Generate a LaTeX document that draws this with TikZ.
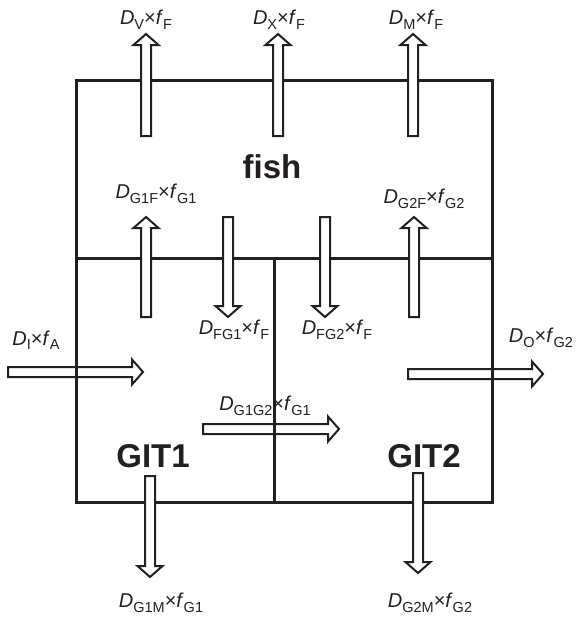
\documentclass[tikz,border=0pt]{standalone}
\usepackage{fontspec}
\setmainfont{Liberation Sans}
\usepackage{xcolor}
\usetikzlibrary{calc}

\definecolor{ink}{HTML}{231F20}
\newcommand{\subfont}{\fontsize{14.5}{15}\selectfont}
\newcommand{\rate}[2]{\textit{D}\raisebox{-4.5pt}{\subfont #1}×\textit{f}\raisebox{-4.5pt}{\subfont #2}}
% hollow block arrow between two named points
\newcommand{\flow}[2]{%
  \filldraw[flux] let \p1=($(#2)-(#1)$), \n1={veclen(\x1,\y1)}, \n2={atan2(\y1,\x1)} in
    [shift={(#1)}, rotate=\n2]
    (0pt,-5pt) -- (\n1-11pt,-5pt) -- (\n1-11pt,-12.5pt) -- (\n1,0pt)
    -- (\n1-11pt,12.5pt) -- (\n1-11pt,5pt) -- (0pt,5pt) -- cycle;}

\begin{document}
\begin{tikzpicture}[x=1pt, y=-1pt, color=ink,
  wall/.style={line width=3pt},
  flux/.style={draw=ink, fill=white, line width=2pt, line join=miter},
  flowlabel/.style={inner sep=0pt, font=\fontsize{20}{22}\selectfont},
  comp/.style={inner sep=0pt, font=\fontsize{33}{36}\selectfont\bfseries}]
\useasboundingbox (0,0) rectangle (577,621);

% end points of the flows
\coordinate (v0) at (146,136);   \coordinate (v1) at (146,34);
\coordinate (x0) at (278,136);   \coordinate (x1) at (278,34);
\coordinate (m0) at (413,136);   \coordinate (m1) at (413,34);
\coordinate (g1f0) at (146,317); \coordinate (g1f1) at (146,217);
\coordinate (g2f0) at (414,317); \coordinate (g2f1) at (414,217);
\coordinate (fg10) at (228,217); \coordinate (fg11) at (228,317);
\coordinate (fg20) at (325,217); \coordinate (fg21) at (325,317);
\coordinate (i0) at (8,372);     \coordinate (i1) at (143,372);
\coordinate (o0) at (408,374);   \coordinate (o1) at (543,374);
\coordinate (g120) at (203,429); \coordinate (g121) at (339,429);
\coordinate (g1m0) at (150,476); \coordinate (g1m1) at (150,577);
\coordinate (g2m0) at (418,473); \coordinate (g2m1) at (418,573);

% flows through the side walls
\flow{i0}{i1}
\flow{o0}{o1}
\flow{g120}{g121}

% compartments
\draw[wall] (76,80) rectangle (492,502);
\draw[wall] (76,258) -- (492,258);
\draw[wall] (274,258) -- (274,502);

\node[comp] (fish) at (272,167) {fish};
\node[comp] (git1) at (153,456) {GIT1};
\node[comp] (git2) at (424,456) {GIT2};

% flows through top and bottom walls
\flow{v0}{v1}
\flow{x0}{x1}
\flow{m0}{m1}
\flow{g1f0}{g1f1}
\flow{g2f0}{g2f1}
\flow{fg10}{fg11}
\flow{fg20}{fg21}
\flow{g1m0}{g1m1}
\flow{g2m0}{g2m1}

\node[flowlabel] (lv) at (146,20) {\rate{V}{F}};
\node[flowlabel] (lx) at (279,20) {\rate{X}{F}};
\node[flowlabel] (lm) at (416,20) {\rate{M}{F}};
\node[flowlabel] (lg1f) at (156,194) {\rate{G1F}{G1}};
\node[flowlabel] (lg2f) at (424,199) {\rate{G2F}{G2}};
\node[flowlabel] (lfg1) at (234,330) {\rate{FG1}{F}};
\node[flowlabel] (lfg2) at (337,330) {\rate{FG2}{F}};
\node[flowlabel] (li) at (36,340) {\rate{I}{A}};
\node[flowlabel] (lo) at (541,338) {\rate{O}{G2}};
\node[flowlabel] (lg12) at (265,406) {\rate{G1G2}{G1}};
\node[flowlabel] (lg1m) at (161,603) {\rate{G1M}{G1}};
\node[flowlabel] (lg2m) at (430,603) {\rate{G2M}{G2}};
\end{tikzpicture}
\end{document}
